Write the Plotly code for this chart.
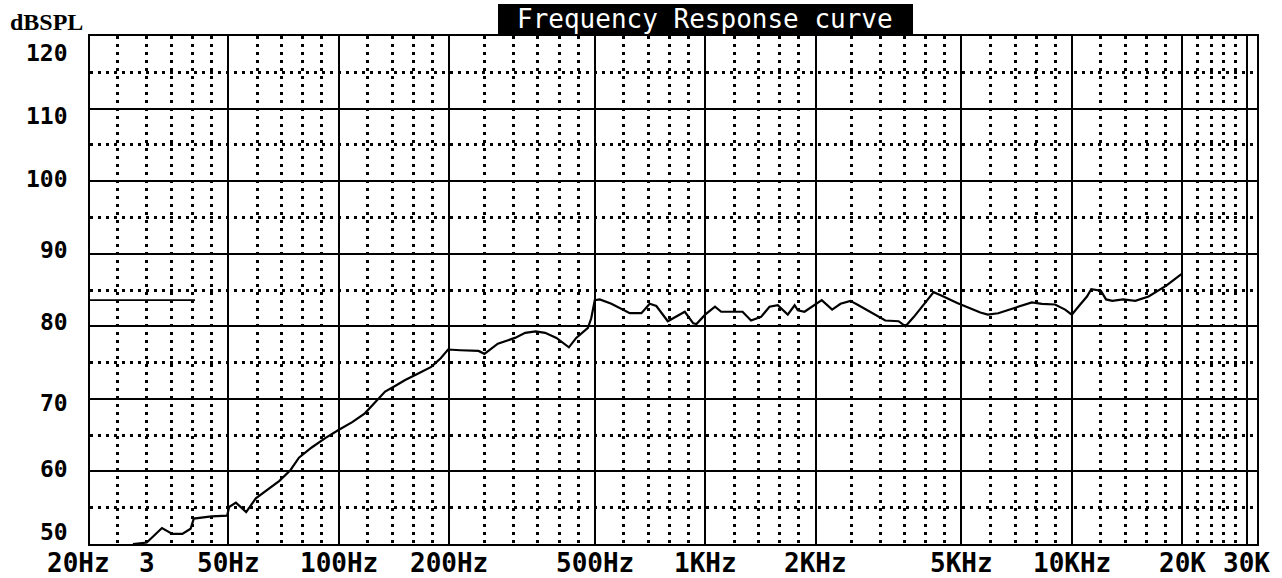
import math
import plotly.graph_objects as go

# ---------------- data ----------------
freq_hz = [27.5, 30, 33, 35.2, 37.5, 39.5, 40.3, 45, 49.7, 50.3, 52.5, 56, 59.5, 64, 69, 74, 78,
           84.5, 92, 100, 109, 118, 126, 134, 143, 152, 165, 179, 190, 199, 215, 230, 241, 250,
           272, 303, 323, 345, 366, 393, 425, 445, 479, 489, 500, 516, 555, 623, 670, 706, 736,
           791, 880, 928, 947, 1000, 1064, 1106, 1265, 1334, 1421, 1498, 1578, 1680, 1754, 1790,
           1866, 2080, 2220, 2340, 2490, 2620, 3100, 3370, 3520, 3710, 4200, 4420, 4870, 5630,
           5900, 6300, 6870, 7780, 8290, 9000, 9590, 10000, 10500, 11000, 11300, 12000, 12400,
           12900, 13800, 14900, 16200, 18100, 19900]
spl_db = [50.0, 50.2, 52.2, 51.4, 51.4, 52.1, 53.5, 53.8, 53.9, 55.1, 55.7, 54.4, 56.3, 57.5, 58.7, 60.2, 61.9,
          63.3, 64.6, 65.7, 66.8, 68.0, 69.5, 71.0, 71.8, 72.6, 73.5, 74.4, 75.6, 76.8, 76.7, 76.6, 76.6, 76.2,
          77.6, 78.4, 79.1, 79.3, 79.1, 78.4, 77.1, 78.4, 79.8, 81.1, 83.6, 83.7, 83.1, 81.8, 81.8, 83.1, 82.8,
          80.7, 82.0, 80.4, 80.3, 81.6, 82.7, 82.0, 82.0, 80.8, 81.3, 82.7, 82.9, 81.6, 82.9, 82.2,
          82.0, 83.6, 82.3, 83.1, 83.5, 82.9, 80.8, 80.7, 80.0, 81.3, 84.7, 84.2, 83.2, 81.9,
          81.6, 81.8, 82.4, 83.3, 83.1, 83.0, 82.3, 81.6, 82.9, 84.1, 85.1, 84.9, 83.7,
          83.5, 83.7, 83.5, 84.1, 85.6, 87.2]

ref_freq_hz = [21, 40.6]
ref_db = [83.6, 83.6]

x_major = [50, 100, 200, 500, 1000, 2000, 5000, 10000, 20000, 30000]
x_minor = [25, 30, 35, 40, 45, 60, 70, 80, 90, 120, 140, 160, 180,
           250, 300, 350, 400, 450, 600, 700, 800, 900, 1200, 1400, 1600, 1800,
           2500, 3000, 3500, 4000, 4500, 6000, 7000, 8000, 9000,
           12000, 14000, 16000, 18000, 22000, 24000, 26000, 28000]
y_major = [60, 70, 80, 90, 100, 110]
y_minor = [55, 65, 75, 85, 95, 105, 115]

x_label_freqs = [20, 30, 50, 100, 200, 500, 1000, 2000, 5000, 10000, 20000, 30000]
x_label_text = ["20Hz", "3", "50Hz", "100Hz", "200Hz", "500Hz", "1KHz", "2KHz", "5KHz", "10KHz", "20K", "30K"]
y_label_vals = [120, 110, 100, 90, 80, 70, 60, 50]
y_label_text = ["120", "110", "100", "90", "80", "70", "60", "50"]
y_label_shift = [-17, -7, 2, 4, 4, -4, 2, 12]   # px, label placement as in the printout

title_text = "Frequency Response curve"
y_unit = "dBSPL"

# ---------------- figure ----------------
W, H = 1282, 578
ML, MR, MT, MB = 90, 25, 36, 34
pw, ph = W - ML - MR, H - MT - MB
XLO, XHI = math.log10(21), math.log10(32000)

fig = go.Figure()
fig.add_trace(go.Scatter(x=ref_freq_hz, y=ref_db, mode="lines",
                         line=dict(color="black", width=1.6), hoverinfo="skip"))
fig.add_trace(go.Scatter(x=freq_hz, y=spl_db, mode="lines",
                         line=dict(color="black", width=2.2)))

mono = "DejaVu Sans Mono"
annotations = []
for f, t in zip(x_label_freqs, x_label_text):
    xp = (math.log10(f) - XLO) / (XHI - XLO)
    annotations.append(dict(x=xp, y=0, xref="paper", yref="paper", text=t,
                            showarrow=False, xanchor="center", yanchor="middle", yshift=-19,
                            xshift=-4 if f == 20 else 0,
                            font=dict(family=mono, size=26, color="black", weight="bold")))
for v, t, s in zip(y_label_vals, y_label_text, y_label_shift):
    annotations.append(dict(x=-20 / pw, y=v, xref="paper", yref="y", text=t,
                            showarrow=False, xanchor="right", yanchor="middle", yshift=s,
                            font=dict(family=mono, size=23, color="black", weight="bold")))
annotations.append(dict(x=(46 - ML) / pw, y=1 + (MT - 22) / ph, xref="paper", yref="paper",
                        text=y_unit, showarrow=False, xanchor="center", yanchor="middle",
                        font=dict(family="Liberation Serif", size=24, color="black", weight="bold")))
annotations.append(dict(x=(705 - ML) / pw, y=1 + (MT - 19) / ph, xref="paper", yref="paper",
                        text=title_text, showarrow=False, xanchor="center", yanchor="middle",
                        font=dict(family=mono, size=26, color="white")))

shapes = [dict(type="rect", xref="paper", yref="paper",
               x0=(498 - ML) / pw, x1=(913 - ML) / pw, y0=1.0, y1=1 + (MT - 4) / ph,
               fillcolor="black", line=dict(width=0), layer="above")]

dot = "2.5px,5.5px"
fig.update_layout(
    width=W, height=H, autosize=False,
    margin=dict(l=ML, r=MR, t=MT, b=MB),
    paper_bgcolor="white", plot_bgcolor="white",
    showlegend=False,
    annotations=annotations, shapes=shapes,
    xaxis=dict(type="log", range=[XLO, XHI],
               tickmode="array", tickvals=x_major, showticklabels=False, ticks="",
               showgrid=True, gridcolor="black", gridwidth=2.4,
               minor=dict(tickmode="array", tickvals=x_minor, showgrid=True, gridcolor="black",
                          gridwidth=2.5, griddash=dot, ticks=""),
               showline=True, linecolor="black", linewidth=2.4, mirror=True, zeroline=False,
               fixedrange=True),
    yaxis=dict(range=[50, 120], tickmode="array", tickvals=y_major, showticklabels=False, ticks="",
               showgrid=True, gridcolor="black", gridwidth=2.4,
               minor=dict(tickmode="array", tickvals=y_minor, showgrid=True, gridcolor="black",
                          gridwidth=2.5, griddash=dot, ticks=""),
               showline=True, linecolor="black", linewidth=2.4, mirror=True, zeroline=False,
               fixedrange=True),
)

fig.write_html("out.html", include_plotlyjs=True, config={"displayModeBar": False},
               post_script="document.body.style.margin='0';document.body.style.overflow='hidden';")
